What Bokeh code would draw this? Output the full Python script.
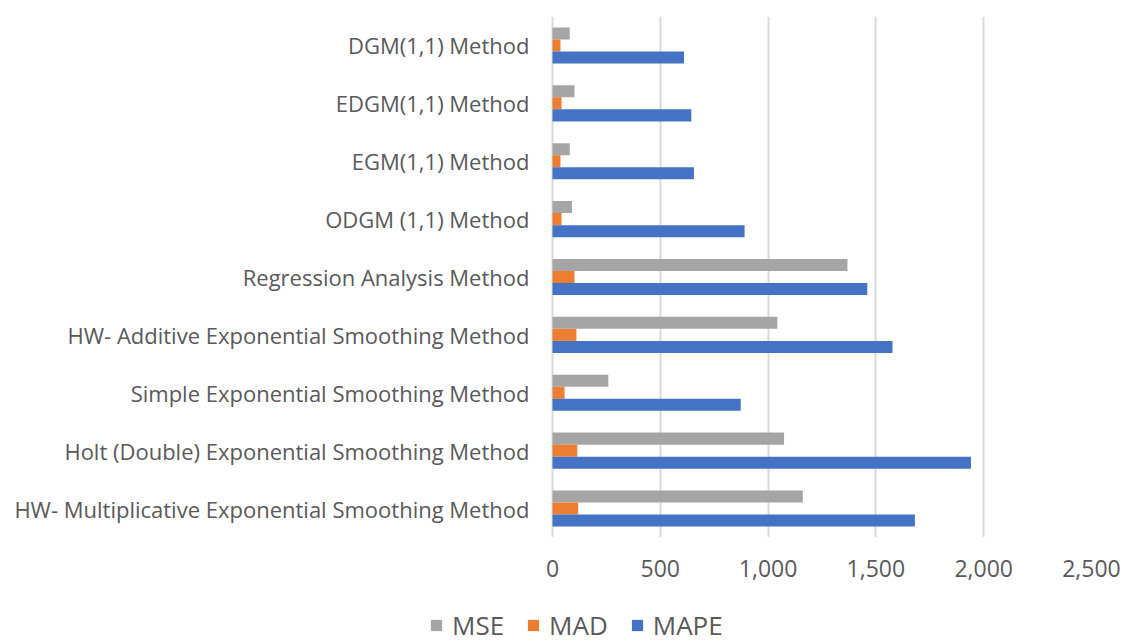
from bokeh.plotting import figure
from bokeh.layouts import column
from bokeh.core.properties import value
from bokeh.models import (ColumnDataSource, Range1d, FactorRange, Legend, LegendItem,
                          NumeralTickFormatter, FixedTicker)
from bokeh.transform import dodge
from bokeh.embed import file_html
from bokeh.resources import INLINE

# Methods, listed bottom to top as they stack on the categorical axis
methods = [
    "HW- Multiplicative Exponential Smoothing Method",
    "Holt (Double) Exponential Smoothing Method",
    "Simple Exponential Smoothing Method",
    "HW- Additive Exponential Smoothing Method",
    "Regression Analysis Method",
    "ODGM (1,1) Method",
    "EGM(1,1) Method",
    "EDGM(1,1) Method",
    "DGM(1,1) Method",
]
mse = [1161, 1074, 259, 1043, 1368, 90, 80, 102, 80]
mad = [119, 115, 56, 111, 102, 42, 37, 42, 37]
mape = [1681, 1941, 873, 1577, 1460, 891, 656, 644, 610]
x_ticks = [0, 500, 1000, 1500, 2000, 2500]

series = ["MSE", "MAD", "MAPE"]
colors = ["#A5A5A5", "#ED7D31", "#4472C4"]

src = ColumnDataSource(data=dict(method=methods, mse=mse, mad=mad, mape=mape,
                                 zero=[0] * len(methods)))

FONT = "Open Sans"
TEXT = "#595959"

# The frame spans the full width; the value scale starts left of zero so that
# the method names sit in the frame to the left of the bars.
X_MAX = 2500
FRAME_RIGHT = 1091
ZERO_PX = 552
x_start = -X_MAX * ZERO_PX / (FRAME_RIGHT - ZERO_PX)

p = figure(width=1122, height=600, output_backend="svg", toolbar_location=None,
           y_range=FactorRange(*methods, range_padding=0),
           x_range=Range1d(x_start, X_MAX),
           min_border_left=0, min_border_right=1122 - FRAME_RIGHT, min_border_top=16,
           min_border_bottom=63)
p.outline_line_color = None
p.background_fill_color = "white"
p.border_fill_color = "white"

bh = 0.208
for key, off, col in zip(["mse", "mad", "mape"], [bh, 0, -bh], colors):
    p.hbar(y=dodge("method", off, range=p.y_range), left=0, right=key, height=bh,
           source=src, fill_color=col, line_color=None)

# Method names, right-aligned just left of the zero line
p.text(x="zero", y="method", text="method", source=src, x_offset=-23,
       text_align="right", text_baseline="middle", text_font=value(FONT),
       text_font_size="22px", text_color=TEXT)

# x axis: value ticks with thousands separators, no axis line or tick marks
p.xaxis.ticker = FixedTicker(ticks=x_ticks)
p.xaxis.formatter = NumeralTickFormatter(format="0,0")
p.xaxis.axis_line_color = None
p.xaxis.major_tick_line_color = None
p.xaxis.minor_tick_line_color = None
p.xaxis.major_label_standoff = 16
p.xaxis.major_label_text_font = FONT
p.xaxis.major_label_text_font_size = "23px"
p.xaxis.major_label_text_color = TEXT

p.yaxis.visible = False

p.xgrid.grid_line_color = "#D9D9D9"
p.xgrid.grid_line_width = 2
p.ygrid.grid_line_color = None

# Legend strip underneath the chart; swatch renderers sit outside the visible range
lg = figure(width=1122, height=43, output_backend="svg", toolbar_location=None,
            x_range=Range1d(0, 1), y_range=Range1d(0, 1),
            min_border=0, min_border_left=0, min_border_right=0,
            min_border_top=0, min_border_bottom=0)
lg.axis.visible = False
lg.grid.visible = False
lg.outline_line_color = None
swatch = ColumnDataSource(data=dict(x=[0.5], y=[-10.0]))
items = []
for name, col in zip(series, colors):
    r = lg.rect(x="x", y="y", width=0.01, height=0.01, source=swatch,
                fill_color=col, line_color=None)
    items.append(LegendItem(label=name, renderers=[r]))
legend = Legend(items=items, orientation="horizontal", location=(429, 0),
                glyph_width=14, glyph_height=14, spacing=22, label_standoff=9,
                label_text_font=FONT, label_text_font_size="26px",
                label_text_color=TEXT, border_line_color=None,
                background_fill_alpha=0, padding=0, margin=0)
lg.add_layout(legend, "center")

open("out.html", "w").write(file_html(column(p, lg, spacing=0), INLINE))
